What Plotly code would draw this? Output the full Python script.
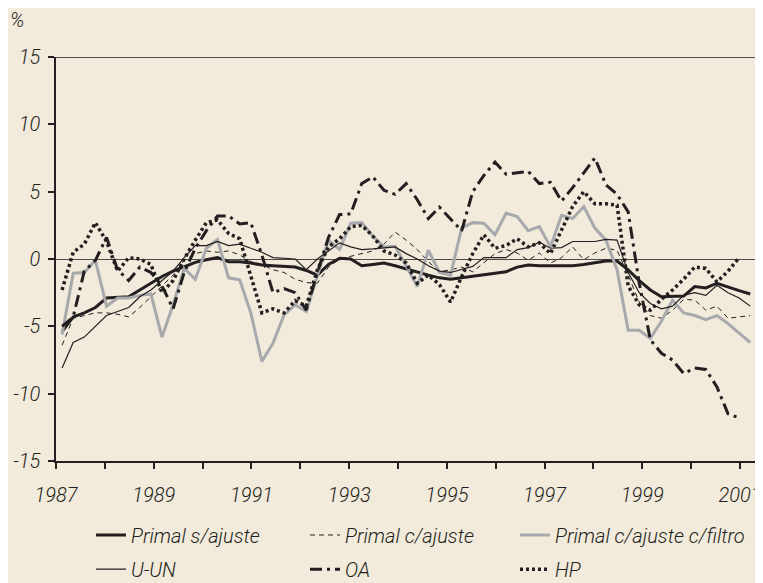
import plotly.graph_objects as go

# quarterly observations, index 0 = first quarter shown
primal_s_ajuste = [-5.4, -4.3, -4.0, -3.6, -2.9, -2.85, -2.8, -2.3, -1.8, -1.3,
                   -0.9, -0.6, -0.25, -0.05, 0.1, -0.2, -0.2, -0.3, -0.45, -0.5,
                   -0.55, -0.6, -0.85, -1.2, -0.4, 0.05, 0.0, -0.5, -0.4, -0.3,
                   -0.5, -0.75, -1.0, -1.2, -1.4, -1.5, -1.4, -1.3, -1.2, -1.1,
                   -0.95, -0.6, -0.45, -0.5, -0.5, -0.55, -0.5, -0.4, -0.25, -0.15,
                   -0.15, -0.8, -1.6, -2.3, -2.8, -2.75, -2.75, -2.05, -2.15, -1.8,
                   -2.1, -2.35, -2.6]
primal_c_ajuste = [-6.4, -4.4, -4.2, -4.0, -4.0, -4.1, -4.3, -3.6, -2.8, -2.0,
                   -1.2, -0.1, 0.4, 0.6, 0.5, 0.6, 0.3, -0.2, -0.4, -0.8,
                   -1.0, -1.5, -1.75, -1.8, -0.6, 0.0, 0.2, 0.4, 0.6, 1.1,
                   2.0, 1.4, 0.7, -0.2, -0.95, -0.8, -0.6, -0.95, -0.3, 0.4,
                   0.7, 0.45, -0.1, 0.45, -0.3, 0.1, 0.9, -0.05, 0.45, 0.8,
                   0.65, -1.2, -3.2, -4.2, -4.4, -3.8, -3.0, -3.05, -3.8, -3.5,
                   -4.4, -4.3, -4.2]
primal_filtro = [-5.6, -1.05, -1.0, -0.1, -3.5, -2.9, -2.9, -2.7, -2.6, -5.8,
                 -3.4, -0.7, -1.5, 0.8, 1.45, -1.4, -1.55, -4.0, -7.6, -6.25,
                 -4.15, -3.4, -3.9, -1.3, 1.4, 0.7, 2.65, 2.7, 1.7, 0.9,
                 0.95, -0.5, -2.05, 0.65, -1.0, -1.2, 2.3, 2.7, 2.65, 1.8,
                 3.4, 3.15, 2.1, 2.4, 0.9, 3.25, 3.0, 3.9, 2.3, 1.4,
                 -0.8, -5.3, -5.3, -5.9, -4.6, -3.05, -4.0, -4.2, -4.5, -4.2,
                 -4.8, -5.5, -6.2]
u_un = [-8.1, -6.2, -5.8, -5.0, -4.2, -3.9, -3.6, -2.8, -2.3, -1.6,
        -0.9, 0.1, 1.0, 1.0, 1.3, 1.0, 1.1, 0.8, 0.5, 0.1,
        0.05, 0.0, -0.8, 0.0, 0.6, 1.2, 0.9, 0.7, 0.75, 0.85,
        0.9, 0.4, 0.0, -0.5, -0.9, -1.0, -0.8, -0.55, 0.1, 0.1,
        0.1, 0.7, 0.85, 1.25, 0.8, 0.85, 1.3, 1.3, 1.3, 1.45,
        1.4, -1.0, -2.5, -3.3, -3.7, -3.5, -2.7, -2.5, -2.7, -1.95,
        -2.5, -2.9, -3.5]
oa = [-5.0, -4.3, -0.9, -0.1, 1.6, -0.8, -1.6, -0.6, -1.0, -2.0,
      -3.7, -1.0, 0.8, 2.1, 3.2, 3.2, 2.6, 2.7, 0.3, -2.5,
      -2.2, -2.5, -3.8, -1.0, 1.6, 3.3, 3.35, 5.6, 6.1, 5.1,
      4.8, 5.6, 4.4, 3.0, 3.85, 3.0, 2.1, 5.0, 6.2, 7.2,
      6.3, 6.4, 6.5, 5.6, 5.7, 4.3, 5.3, 6.4, 7.5, 5.5,
      4.8, 3.5, -1.8, -6.0, -7.0, -7.5, -8.5, -8.1, -8.2, -9.5,
      -11.5, -11.8]
hp = [-2.3, 0.5, 1.1, 2.7, 1.3, -0.9, 0.1, 0.0, -0.4, -2.5,
      -1.6, 0.0, 1.4, 2.7, 2.9, 1.9, 1.5, -1.2, -4.0, -3.7,
      -4.0, -3.1, -3.5, -0.8, 0.9, 1.5, 2.4, 2.5, 1.7, 0.6,
      0.3, -0.3, -1.8, -1.2, -1.9, -3.2, -1.3, 0.4, 1.8, 0.8,
      1.0, 1.5, 0.9, 1.2, 0.4, 2.15, 3.9, 5.0, 4.1, 4.1,
      4.0, -2.0, -3.4, -3.8, -3.0, -2.3, -1.5, -0.6, -0.7, -1.7,
      -0.9, 0.1]

years = list(range(1987, 2002))
year_labels = [str(y) if (y - 1987) % 2 == 0 else "" for y in years]
y_ticks = [-15, -10, -5, 0, 5, 10, 15]
y_labels = [str(v) for v in y_ticks]   # plain hyphen like the original

BLACK = "#231f20"
GREY = "#a7a9ac"
BG = "#f2eadb"
FONT = "Roboto, Liberation Sans, sans-serif"

# (name, values, line style, legend slot)
series = [
    ("Primal s/ajuste", primal_s_ajuste, dict(color=BLACK, width=3), "legend"),
    ("Primal c/ajuste", primal_c_ajuste, dict(color=BLACK, width=1, dash="5px,4px"), "legend2"),
    ("Primal c/ajuste c/filtro", primal_filtro, dict(color=GREY, width=3), "legend3"),
    ("U-UN", u_un, dict(color=BLACK, width=1.2), "legend4"),
    ("OA", oa, dict(color=BLACK, width=3, dash="12px,5px,3px,5px"), "legend5"),
    ("HP", hp, dict(color=BLACK, width=3.5, dash="3px,3px"), "legend6"),
]

fig = go.Figure()
for name, vals, line, leg in series:
    fig.add_trace(go.Scatter(x=list(range(len(vals))), y=vals, mode="lines",
                             name=name, line=line, legend=leg))

# empty trace so the year axis gets drawn
fig.add_trace(go.Scatter(x=[1987, 2001], y=[None, None], xaxis="x2",
                         showlegend=False, hoverinfo="skip"))

tick_font = dict(family=FONT, size=20, style="italic", weight=300, color=BLACK)


def legend_slot(x, y):
    return dict(orientation="h", xref="container", yref="container",
                x=x, y=y, xanchor="left", yanchor="middle",
                bgcolor="rgba(0,0,0,0)", font=tick_font)


fig.update_layout(
    width=755, height=575,
    margin=dict(l=48, r=0, t=49, b=122),
    paper_bgcolor=BG, plot_bgcolor=BG,
    font=tick_font,
    xaxis=dict(range=[-0.55, 63.15], visible=False, automargin=False),
    xaxis2=dict(range=[1987, 2001.47], overlaying="x", side="bottom",
                tickvals=years, ticktext=year_labels, ticks="outside",
                ticklen=6, tickwidth=1.5, tickcolor=BLACK,
                showline=True, linecolor=BLACK, linewidth=1.5,
                showgrid=False, zeroline=False, ticklabelstandoff=9,
                automargin=False, tickfont=tick_font),
    yaxis=dict(range=[-15, 15], tickvals=y_ticks, ticktext=y_labels,
               ticks="outside", ticklen=6,
               tickwidth=1.5, tickcolor=BLACK, showline=True, linecolor=BLACK,
               linewidth=1.5, showgrid=False, zeroline=True,
               zerolinecolor="#4d4a46", zerolinewidth=1,
               ticklabelstandoff=4, automargin=False, tickfont=tick_font),
    legend=legend_slot(0.1099, 0.0835),
    legend2=legend_slot(0.3934, 0.0835),
    legend3=legend_slot(0.6715, 0.0835),
    legend4=legend_slot(0.1099, 0.024),
    legend5=legend_slot(0.3934, 0.024),
    legend6=legend_slot(0.6715, 0.024),
    shapes=[dict(type="line", xref="paper", yref="y", x0=0, x1=1, y0=15, y1=15,
                 line=dict(color=BLACK, width=1.5))],
    annotations=[dict(text="%", xref="paper", yref="paper", x=-0.055, y=1.0916,
                      showarrow=False, xanchor="center", yanchor="middle",
                      font=tick_font)],
)

fig.write_html("out.html")
